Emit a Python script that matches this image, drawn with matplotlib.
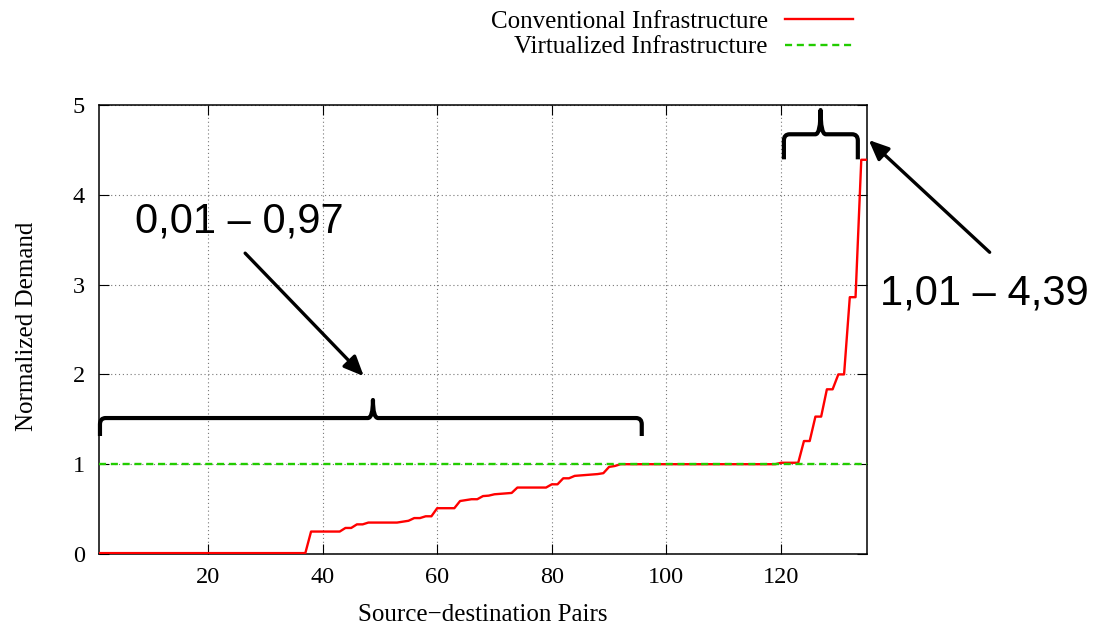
import numpy as np
import matplotlib
matplotlib.use('Agg')
import matplotlib.pyplot as plt
from matplotlib.lines import Line2D
from matplotlib.patches import PathPatch
from matplotlib.path import Path

# 数据
pairs = np.arange(1, 136)
conventional = (
    [0.01] * 37 +
    [0.25] * 6 +                      # 38-43
    [0.29, 0.29, 0.33, 0.33] +        # 44-47
    [0.35] * 6 +                      # 48-53
    [0.36, 0.37, 0.40, 0.40, 0.42, 0.42] +   # 54-59
    [0.51] * 4 +                      # 60-63
    [0.59, 0.60, 0.61, 0.61, 0.645, 0.65, 0.665, 0.67, 0.675, 0.68] +  # 64-73
    [0.74] * 6 +                      # 74-79
    [0.776, 0.776, 0.843, 0.843, 0.87, 0.875, 0.88, 0.885, 0.89, 0.90,
     0.97, 0.98] +                    # 80-91
    [1.0] * 28 +                      # 92-119
    [1.016] * 4 +                     # 120-123
    [1.258, 1.258, 1.53, 1.53, 1.834, 1.834, 2.0, 2.0, 2.86, 2.86,
     4.39, 4.39]                      # 124-135
)
virtualized = [1.0] * len(pairs)

series_labels = ['Conventional Infrastructure', 'Virtualized Infrastructure']
x_ticks = [20, 40, 60, 80, 100, 120]
y_ticks = [0, 1, 2, 3, 4, 5]

SERIF = 'Liberation Serif'
SANS = 'Liberation Sans'
RED = '#ff0000'
GREEN = '#22cc00'
DASH = (0, (3, 2))

W, H = 1095, 628
fig = plt.figure(figsize=(W / 100, H / 100), dpi=100)
fig.patch.set_facecolor('white')

# 绘图区域 (pixel box of the plot area)
left, right, top, bottom = 99, 867, 105, 554
ax = fig.add_axes([left / W, 1 - bottom / H, (right - left) / W, (bottom - top) / H])

ax.plot(pairs, conventional, '-', color=RED, linewidth=1.7, zorder=3)
ax.plot(pairs, virtualized, color=GREEN, linewidth=1.7, linestyle=DASH, zorder=4)

ax.set_xlim(1, 135)
ax.set_ylim(0, 5)
ax.set_xticks(x_ticks)
ax.set_yticks(y_ticks)
ax.grid(True, linestyle=(0, (1, 2.5)), color='#777777', linewidth=0.8)
ax.tick_params(direction='in', length=7, width=0.8, top=True, right=True,
               labelsize=17.5)
ax.tick_params(axis='x', pad=9.5)
ax.tick_params(axis='y', pad=10)
for lab in ax.get_xticklabels() + ax.get_yticklabels():
    lab.set_fontfamily(SERIF)
for spine in ax.spines.values():
    spine.set_linewidth(1.1)
    spine.set_color('black')

# 轴标签
fig.text(483 / W, 1 - 621 / H, 'Source\u2212destination Pairs', ha='center',
         va='baseline', fontsize=18, family=SERIF)
fig.text(27 / W, 1 - 326 / H, 'Normalized Demand', ha='center', va='center',
         rotation=90, fontsize=18, family=SERIF)

# 图例 (right-aligned text, sample line to the right)
legend_rows = [(series_labels[0], RED, '-', 28.3, 19.3),
               (series_labels[1], GREEN, DASH, 53.3, 44.5)]
for label, color, ls, base_y, line_y in legend_rows:
    fig.text(768 / W, 1 - base_y / H, label, ha='right', va='baseline',
             fontsize=18, family=SERIF)
    fig.add_artist(Line2D([785 / W, 853 / W], [1 - line_y / H, 1 - line_y / H],
                          color=color, linestyle=ls, linewidth=1.7))


def brace(ax, x0, x1, xm, yh, yend, ypk, rx, ry, sx):
    """花括号"""
    verts = [(x0, yend), (x0, yh - ry), (x0, yh), (x0 + rx, yh),
             (xm - sx, yh), (xm, yh), (xm, ypk), (xm, yh), (xm + sx, yh),
             (x1 - rx, yh), (x1, yh), (x1, yh - ry), (x1, yend)]
    codes = [Path.MOVETO, Path.LINETO, Path.CURVE3, Path.CURVE3,
             Path.LINETO, Path.CURVE3, Path.CURVE3, Path.CURVE3, Path.CURVE3,
             Path.LINETO, Path.CURVE3, Path.CURVE3, Path.LINETO]
    patch = PathPatch(Path(verts, codes), facecolor='none', edgecolor='black',
                      linewidth=3, capstyle='butt', joinstyle='round',
                      clip_on=False, zorder=5)
    ax.add_patch(patch)


brace(ax, 1.17, 95.7, 48.8, 1.514, 1.314, 1.715, 1.0, 0.07, 0.9)
brace(ax, 120.5, 133.4, 126.9, 4.674, 4.395, 4.944, 1.0, 0.07, 0.9)

arrow_kw = dict(arrowstyle='-|>,head_length=0.8,head_width=0.35',
                mutation_scale=15, color='black', linewidth=2.4,
                shrinkA=0, shrinkB=0)
ax.annotate('', xy=(47.2, 1.98), xytext=(26.5, 3.35),
            arrowprops=arrow_kw, annotation_clip=False)
ax.annotate('', xy=(135.3, 4.61), xytext=(156.4, 3.36),
            arrowprops=arrow_kw, annotation_clip=False)

ax.text(7.3, 3.575, '0,01 \u2013 0,97', fontsize=30, family=SANS,
        ha='left', va='baseline')
ax.text(137.2, 2.773, '1,01 \u2013 4,39', fontsize=30, family=SANS,
        ha='left', va='baseline', clip_on=False)

fig.savefig('out.png', dpi=100)
